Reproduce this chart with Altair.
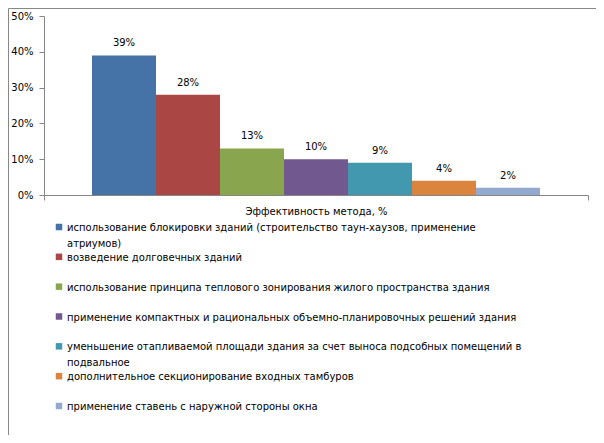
import altair as alt
import pandas as pd

FONT = "DejaVu Sans"
FS = 10

category = "Эффективность метода, %"
series = [
    "использование блокировки зданий (строительство таун-хаузов, применение атриумов)",
    "возведение долговечных зданий",
    "использование принципа теплового зонирования жилого пространства здания",
    "применение компактных и рациональных объемно-планировочных решений здания",
    "уменьшение отапливаемой площади здания за счет выноса подсобных помещений в подвальное",
    "дополнительное секционирование входных тамбуров",
    "применение ставень с наружной стороны окна",
]
legend_labels = [
    "использование блокировки зданий (строительство таун-хаузов, применение\nатриумов)",
    "возведение долговечных зданий",
    "использование принципа теплового зонирования жилого пространства здания",
    "применение компактных и рациональных объемно-планировочных решений здания",
    "уменьшение отапливаемой площади здания за счет выноса подсобных помещений в\nподвальное",
    "дополнительное секционирование входных тамбуров",
    "применение ставень с наружной стороны окна",
]
values = [0.39, 0.28, 0.13, 0.10, 0.09, 0.04, 0.02]
colors = ["#4572A7", "#AA4643", "#89A54E", "#71588F", "#4198AF", "#DB843D", "#93A9CF"]
y_ticks = [0, 0.1, 0.2, 0.3, 0.4, 0.5]

df = pd.DataFrame({"category": category, "series": series, "value": values})
leg = pd.DataFrame({"series": series, "label": legend_labels})

AX = "#868686"

x_enc = alt.X(
    "category:N",
    scale=alt.Scale(range=[36, 580], paddingInner=0, paddingOuter=0),
    axis=alt.Axis(title=None, labelAngle=0, offset=-240, domainColor=AX, tickColor=AX,
                  tickSize=5, tickBand="extent", labelPadding=6, labelFontSize=FS, labelFont=FONT,
                  labelColor="#000000", labelLimit=0),
)
xo_enc = alt.XOffset("series:N", sort=series, scale=alt.Scale(paddingOuter=0.75, paddingInner=0))
y_enc = alt.Y(
    "value:Q",
    scale=alt.Scale(domain=[0, 0.5], range=[187, 8], nice=False),
    axis=alt.Axis(title=None, format=".0%", values=y_ticks, offset=-36, grid=False,
                  domainColor=AX, tickColor=AX, tickSize=5, labelPadding=6,
                  labelFontSize=FS, labelFont=FONT, labelColor="#000000"),
)
color_enc = alt.Color("series:N", sort=series, scale=alt.Scale(domain=series, range=colors), legend=None)

bars = alt.Chart(df).mark_bar().encode(x=x_enc, xOffset=xo_enc, y=y_enc, color=color_enc)
labels = alt.Chart(df).mark_text(baseline="bottom", dy=-7, font=FONT, fontSize=FS, color="#000000").encode(
    x=x_enc, xOffset=xo_enc, y=y_enc, text=alt.Text("value:Q", format=".0%")
)

leg_y = alt.Y("series:N", sort=series, scale=alt.Scale(type="point", domain=series, range=[219, 398], padding=0), axis=None)
leg_sym = alt.Chart(leg).mark_square(size=42, opacity=1).encode(
    x=alt.value(51), y=leg_y, color=alt.Color("series:N", scale=alt.Scale(domain=series, range=colors), legend=None)
)
leg_txt = alt.Chart(leg).mark_text(align="left", baseline="alphabetic", dy=4, lineBreak="\n", lineHeight=16,
                                   font=FONT, fontSize=FS, color="#000000").encode(
    x=alt.value(59), y=leg_y, text="label:N"
)

main = alt.layer(bars, labels)
legend = alt.layer(leg_sym, leg_txt)

chart = alt.layer(main, legend).resolve_scale(y="independent").properties(
    width=588, height=427, padding=0
).configure_view(stroke="#878787", strokeWidth=1)

chart.save("out.html", embed_options={"renderer": "svg", "actions": False})
